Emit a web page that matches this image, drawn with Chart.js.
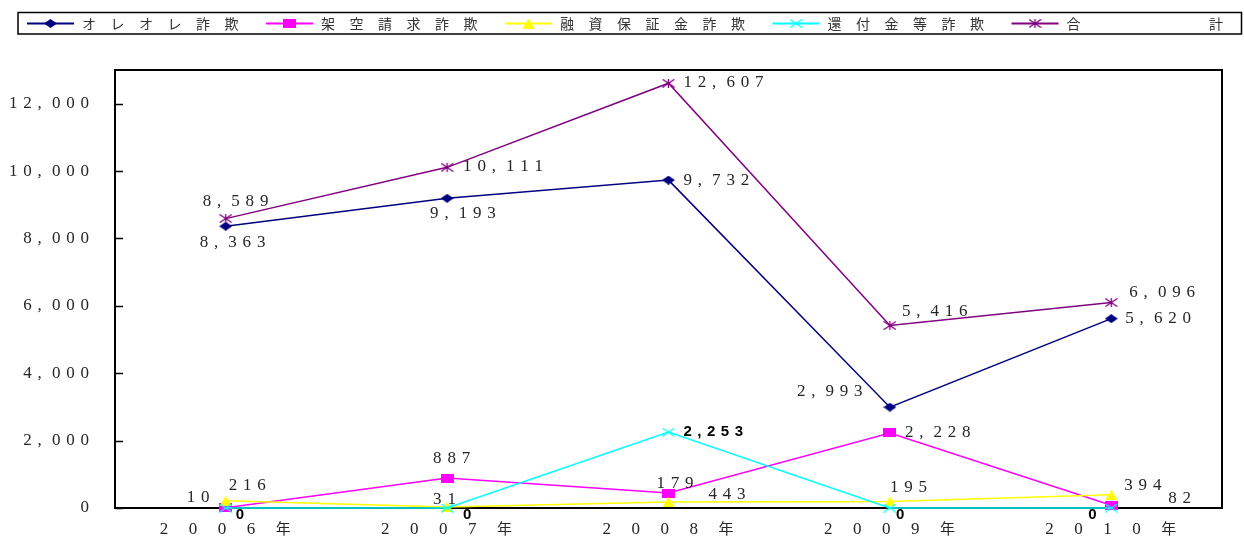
<!DOCTYPE html>
<html>
<head>
<meta charset="utf-8">
<script src="https://cdn.jsdelivr.net/npm/chart.js@4.4.1/dist/chart.umd.min.js"></script>
<style>
    html, body { margin: 0; padding: 0; background: #fff; }
    canvas { display: block; }
</style>
</head>
<body>
<canvas id="fraudChart" width="1244" height="538"></canvas>
<script>
// data
const years = ['2006年', '2007年', '2008年', '2009年', '2010年'];
const oreore = [8363, 9193, 9732, 2993, 5620];
const kakuu = [10, 887, 443, 2228, 82];
const yuushi = [216, 31, 179, 195, 394];
const kanpu = [0, 0, 2253, 0, 0];
const total = [8589, 10111, 12607, 5416, 6096];
const seriesNames = ['オレオレ詐欺', '架空請求詐欺', '融資保証金詐欺', '還付金等詐欺', '合　　　　計'];
const yTicks = [0, 2000, 4000, 6000, 8000, 10000, 12000];

const NUM_FONT = '17px "Liberation Serif", serif';
const KANJI_FONT = '15px "Noto Sans CJK JP", sans-serif';
const JP_FONT = '14px "Noto Sans CJK JP", sans-serif';
const TEXT_COLOR = '#262626';

// markers come out a bit wider than tall in the reference
function makeMarker(kind, color) {
    const c = document.createElement('canvas');
    const w = 13, h = kind === 'triangle' ? 10 : 9;
    c.width = w; c.height = h;
    const ctx = c.getContext('2d');
    ctx.fillStyle = color;
    ctx.strokeStyle = color;
    ctx.lineWidth = 1.3;
    ctx.beginPath();
    if (kind === 'diamond') {
        ctx.moveTo(0, h / 2); ctx.lineTo(w / 2, 0); ctx.lineTo(w, h / 2); ctx.lineTo(w / 2, h);
        ctx.closePath(); ctx.fill();
    } else if (kind === 'rect') {
        ctx.fillRect(0, 0, w, h);
    } else if (kind === 'triangle') {
        ctx.moveTo(w / 2, 0); ctx.lineTo(w - 0.5, h); ctx.lineTo(0.5, h);
        ctx.closePath(); ctx.fill();
    } else if (kind === 'cross') {
        ctx.moveTo(0.5, 0.5); ctx.lineTo(w - 0.5, h - 0.5);
        ctx.moveTo(w - 0.5, 0.5); ctx.lineTo(0.5, h - 0.5);
        ctx.stroke();
    } else if (kind === 'star') {
        ctx.moveTo(0.5, 0.5); ctx.lineTo(w - 0.5, h - 0.5);
        ctx.moveTo(w - 0.5, 0.5); ctx.lineTo(0.5, h - 0.5);
        ctx.moveTo(w / 2, 0); ctx.lineTo(w / 2, h);
        ctx.stroke();
    }
    return c;
}

// draw text one character at a time on a fixed pitch (letter-spaced look)
function drawSpaced(ctx, text, x, y, pitch) {
    Array.from(text).forEach((ch, i) => ctx.fillText(ch, x + i * pitch, y));
}

function drawGapped(ctx, text, x, y, gap) {
    let cx = x;
    Array.from(text).forEach(ch => {
        ctx.fillText(ch, cx, y);
        cx += ctx.measureText(ch).width + gap;
    });
}

const fmt = v => v.toLocaleString('en-US');

const seriesStyle = [
    { data: oreore, color: '#000080', marker: 'diamond' },
    { data: kakuu, color: '#ff00ff', marker: 'rect' },
    { data: yuushi, color: '#ffff00', marker: 'triangle' },
    { data: kanpu, color: '#00ffff', marker: 'cross' },
    { data: total, color: '#800080', marker: 'star' }
];

const datasets = seriesStyle.map((s, i) => {
    const img = makeMarker(s.marker, s.color);
    return {
        label: seriesNames[i],
        data: s.data,
        borderColor: s.color,
        backgroundColor: s.color,
        borderWidth: 1.5,
        pointStyle: img,
        pointRadius: 6,
        pointHoverRadius: 6,
        tension: 0,
        clip: false,
        order: seriesStyle.length - i,
        markerImage: img
    };
});

const decorPlugin = {
    id: 'excelDecor',
    beforeDatasetsDraw(chart) {
        const { ctx, chartArea: a } = chart;
        const y = chart.scales.y;
        ctx.save();
        ctx.strokeStyle = '#000';
        ctx.lineWidth = 2;
        ctx.strokeRect(a.left, a.top, a.right - a.left, a.bottom - a.top);
        ctx.lineWidth = 1.5;
        y.ticks.forEach(t => {
            const py = Math.round(y.getPixelForValue(t.value)) + 0.5;
            ctx.beginPath();
            ctx.moveTo(a.left, py);
            ctx.lineTo(a.left + 8, py);
            ctx.stroke();
        });
        ctx.restore();
    },
    afterDatasetsDraw(chart, args, opts) {
        const { ctx } = chart;
        const xs = chart.scales.x, ys = chart.scales.y;
        ctx.save();
        ctx.textAlign = 'left';
        ctx.textBaseline = 'middle';

        // y tick labels, right edge at x=89
        ctx.font = NUM_FONT;
        ctx.fillStyle = TEXT_COLOR;
        ys.ticks.forEach(t => {
            const s = fmt(t.value);
            const n = Array.from(s).length;
            const last = ctx.measureText(s.slice(-1)).width;
            drawSpaced(ctx, s, 89 - (n - 1) * opts.pitch - last, ys.getPixelForValue(t.value), opts.pitch);
        });

        // category labels: digits serif, 年 from the CJK font
        years.forEach((yr, i) => {
            const cx = xs.getPixelForValue(i);
            Array.from(yr).forEach((ch, k) => {
                const isDigit = /\d/.test(ch);
                ctx.font = isDigit ? NUM_FONT : KANJI_FONT;
                ctx.fillText(ch, cx - 66 + k * 29, isDigit ? 530 : 528);
            });
        });

        // data labels
        chart.data.datasets.forEach((ds, di) => {
            const meta = chart.getDatasetMeta(di);
            const offs = opts.offsets[di];
            ds.data.forEach((v, i) => {
                const p = meta.data[i];
                const lx = p.x + offs[i][0];
                const ly = p.y + offs[i][1];
                if (di === 3) {
                    ctx.font = 'bold 15px "Liberation Sans", Arial, sans-serif';
                    ctx.fillStyle = '#000';
                    drawGapped(ctx, fmt(v), lx, ly, 5.5);
                } else {
                    ctx.font = NUM_FONT;
                    ctx.fillStyle = TEXT_COLOR;
                    drawSpaced(ctx, fmt(v), lx, ly, opts.pitch);
                }
            });
        });

        // legend box
        ctx.strokeStyle = '#000';
        ctx.lineWidth = 1.5;
        ctx.strokeRect(18, 12.5, 1223.5, 21.5);
        const ly = 23.5;
        let x = 27;
        chart.data.datasets.forEach(ds => {
            ctx.strokeStyle = ds.borderColor;
            ctx.lineWidth = 2.2;
            ctx.beginPath();
            ctx.moveTo(x, ly);
            ctx.lineTo(x + 47, ly);
            ctx.stroke();
            const img = ds.markerImage;
            ctx.drawImage(img, x + 23.5 - img.width / 2, ly - img.height / 2);
            ctx.font = JP_FONT;
            ctx.fillStyle = '#333';
            const tx = x + 55;
            drawSpaced(ctx, ds.label, tx, ly, 28.5);
            x = tx + Array.from(ds.label).length * 28.5 + 13;
        });
        ctx.restore();
    }
};

const ctx = document.getElementById('fraudChart').getContext('2d');
new Chart(ctx, {
    type: 'line',
    data: { labels: years, datasets: datasets },
    options: {
        responsive: false,
        animation: false,
        layout: { padding: { top: 70, right: 22, left: 0, bottom: 0 } },
        plugins: {
            legend: { display: false },
            tooltip: { enabled: false },
            excelDecor: {
                pitch: 14.3,
                // [dx, dy] from the point to the left/middle of each label
                offsets: [
                    [[-26, 16], [-17, 15], [15, 0], [-93, -16], [14, 0]],
                    [[-39, -10], [-14, -20], [40, 1], [15, 0], [57, -7]],
                    [[3, -15], [-14, -7], [-12, -18], [0, -14], [13, -9]],
                    [[10, 7], [16, 7], [15, 0], [6, 7], [-23, 7]],
                    [[-23, -17], [16, -1], [15, -1], [12, -14], [18, -10]]
                ]
            }
        },
        scales: {
            x: {
                type: 'category',
                offset: true,
                grid: { display: false },
                border: { display: false },
                ticks: { display: false },
                afterFit(scale) { scale.height = 30; }
            },
            y: {
                min: 0,
                max: 13000,
                grid: { display: false },
                border: { display: false },
                ticks: { display: false },
                afterBuildTicks(scale) { scale.ticks = yTicks.map(v => ({ value: v })); },
                afterFit(scale) { scale.width = 115; }
            }
        }
    },
    plugins: [decorPlugin]
});
</script>
</body>
</html>
